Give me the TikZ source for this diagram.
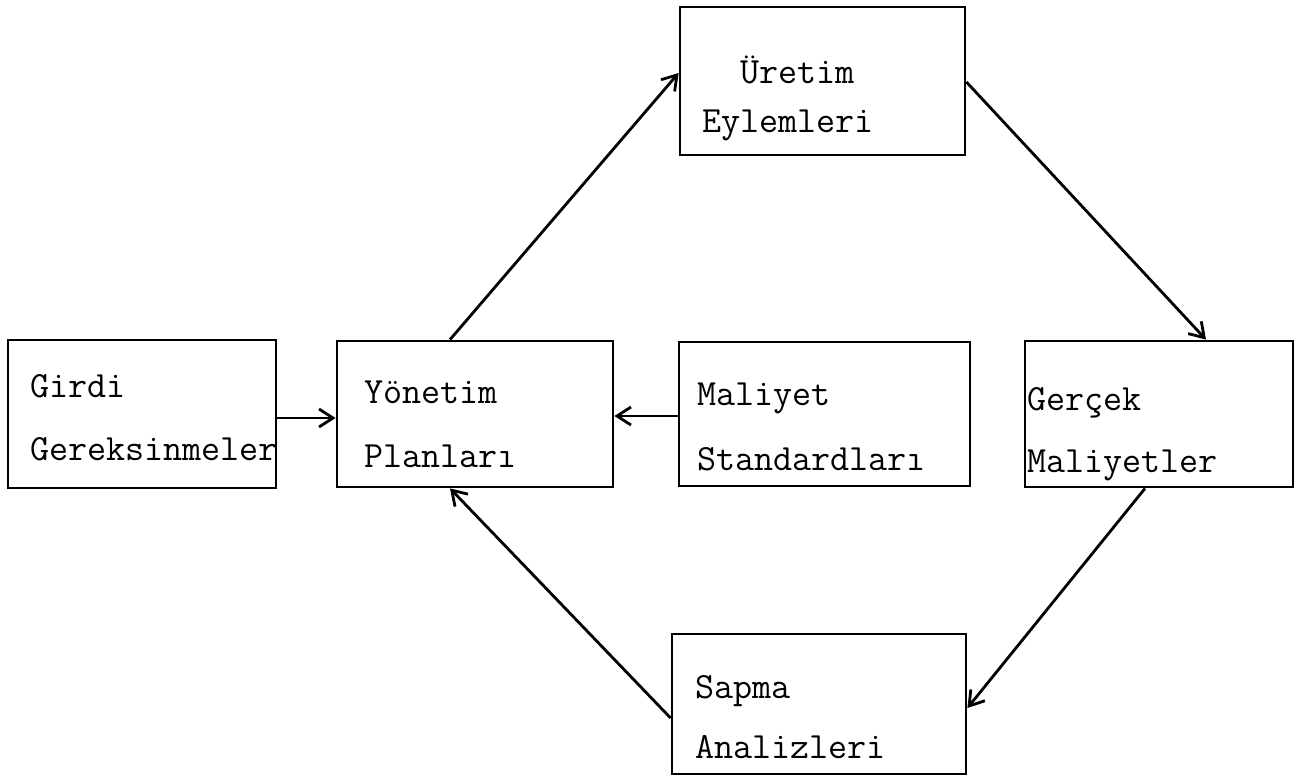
\documentclass[tikz,border=0pt]{standalone}
\usepackage{fontspec}
\usetikzlibrary{arrows.meta}
\begin{document}
\begin{tikzpicture}[x=1pt,y=-1pt,
  box/.style={draw, line width=2.8pt, inner sep=0pt},
  lbl/.style={anchor=base west, inner sep=0pt,
    font=\ttfamily\fontsize{37}{44}\selectfont},
  link/.style={line width=2.8pt,
    -{Straight Barb[length=14pt,width=18pt,line width=2.8pt]}}]
\useasboundingbox (0,0) rectangle (1312,780);

% boxes
\node[box, minimum width=268pt, minimum height=148pt] (girdi)   at (142,414)   {};
\node[box, minimum width=276pt, minimum height=146pt] (yonetim) at (475,414)   {};
\node[box, minimum width=291pt, minimum height=144pt] (maliyet) at (824.5,414) {};
\node[box, minimum width=268pt, minimum height=146pt] (gercek)  at (1159,414)  {};
\node[box, minimum width=285pt, minimum height=148pt] (uretim)  at (822.5,81)  {};
\node[box, minimum width=294pt, minimum height=140pt] (sapma)   at (819,704)   {};

% labels
\node[lbl] (girdi1)   at (30,397)   {Girdi};
\node[lbl] (girdi2)   at (30,460)   {Gereksinmeler};
\node[lbl] (yonetim1) at (364,403)  {Yönetim};
\node[lbl] (yonetim2) at (364,467)  {Planları};
\node[lbl] (maliyet1) at (697,405)  {Maliyet};
\node[lbl] (maliyet2) at (697,470)  {Standardları};
\node[lbl] (gercek1)  at (1027,410) {Gerçek};
\node[lbl] (gercek2)  at (1027,472) {Maliyetler};
\node[lbl] (uretim1)  at (740,83)   {Üretim};
\node[lbl] (uretim2)  at (702,132)  {Eylemleri};
\node[lbl] (sapma1)   at (695,698)  {Sapma};
\node[lbl] (sapma2)   at (695,758)  {Analizleri};

% connectors
\draw[link] ([yshift=-4pt]girdi.east) -- ([yshift=-4pt]yonetim.west);
\draw[link] ([yshift=-2pt]maliyet.west) -- ([yshift=-2pt]yonetim.east);
\draw[link] ([xshift=-25pt]yonetim.north) -- ([yshift=8pt]uretim.west);
\draw[link] ([yshift=-1pt]uretim.east) -- ([xshift=47pt]gercek.north);
\draw[link] ([xshift=-14pt]gercek.south) -- ([yshift=-4pt]sapma.east);
\draw[link] ([yshift=-14pt]sapma.west) -- ([xshift=-25pt]yonetim.south);
\end{tikzpicture}
\end{document}
